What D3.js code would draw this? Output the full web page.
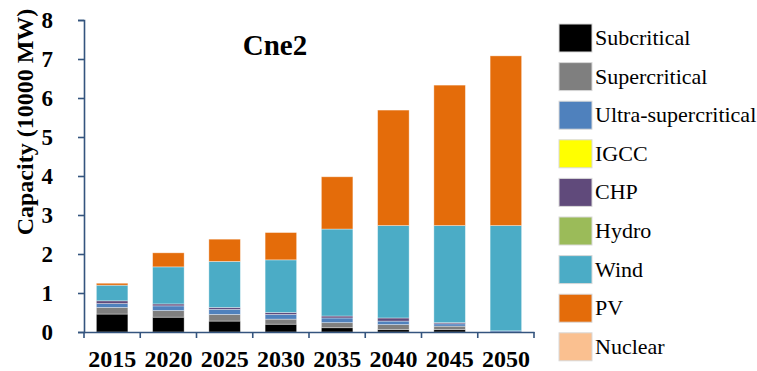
<!DOCTYPE html>
<html>
<head>
<meta charset="utf-8">
<script src="https://cdnjs.cloudflare.com/ajax/libs/d3/7.8.5/d3.min.js"></script>
<style>
  body { margin: 0; background: #fff; }
  text { font-family: "Liberation Serif", "Times New Roman", serif; }
</style>
</head>
<body>
<svg id="chart" width="757" height="371"></svg>
<script>
// categories
var years = ["2015", "2020", "2025", "2030", "2035", "2040", "2045", "2050"];

// series (10000 MW)
var subcritical   = [0.46, 0.38, 0.28, 0.20, 0.11, 0.06, 0.06, 0.00];
var supercritical = [0.17, 0.17, 0.17, 0.13, 0.13, 0.13, 0.09, 0.00];
var ultraSuper    = [0.10, 0.12, 0.13, 0.12, 0.12, 0.09, 0.06, 0.03];
var igcc          = [0, 0, 0, 0, 0, 0, 0, 0];
var chp           = [0.07, 0.05, 0.05, 0.05, 0.05, 0.08, 0.03, 0.00];
var hydro         = [0, 0, 0, 0, 0, 0, 0, 0];
var wind          = [0.40, 0.95, 1.18, 1.35, 2.23, 2.37, 2.49, 2.70];
var pv            = [0.05, 0.36, 0.57, 0.70, 1.34, 2.96, 3.60, 4.35];
var nuclear       = [0, 0, 0, 0, 0, 0, 0, 0];

var seriesNames = ["Subcritical", "Supercritical", "Ultra-supercritical", "IGCC",
                   "CHP", "Hydro", "Wind", "PV", "Nuclear"];
var seriesValues = [subcritical, supercritical, ultraSuper, igcc, chp, hydro, wind, pv, nuclear];
var colors = ["#000000", "#7f7f7f", "#4f81bd", "#ffff00", "#604a7b",
              "#9bbb59", "#4bacc6", "#e46c0a", "#fac090"];

var yTicks = [0, 1, 2, 3, 4, 5, 6, 7, 8];
var title = "Cne2";
var yTitle = "Capacity (10000 MW)";

// build rows for the stack
var rows = years.map(function (y, i) {
    var r = { year: y };
    seriesNames.forEach(function (s, j) { r[s] = seriesValues[j][i]; });
    return r;
});

var svg = d3.select("#chart");
var axisColor = "#34547e";

var x = d3.scaleBand()
    .domain(years)
    .range([84, 534])
    .paddingInner(0.44)
    .paddingOuter(0.22);

var y = d3.scaleLinear()
    .domain([0, 8])
    .range([332, 20]);

var stack = d3.stack().keys(seriesNames);
var layers = stack(rows);

// bars
svg.append("g").attr("class", "bars")
    .selectAll("g")
    .data(layers)
    .enter()
    .append("g")
        .attr("fill", function (d, i) { return colors[i]; })
    .selectAll("rect")
    .data(function (d) { return d.filter(function (p) { return p[1] - p[0] > 0; }); })
    .enter()
    .append("rect")
        .attr("x", function (d) { return x(d.data.year); })
        .attr("width", x.bandwidth())
        .attr("y", function (d) { return y(d[1]); })
        .attr("height", function (d) { return y(d[0]) - y(d[1]); })
        .attr("stroke", "#ffffff")
        .attr("stroke-opacity", 0.45)
        .attr("stroke-width", 0.8);

// y axis
var yAxis = svg.append("g")
    .attr("transform", "translate(84,0)")
    .call(d3.axisLeft(y).tickValues(yTicks).tickSize(6).tickPadding(25).tickFormat(d3.format("d")));
yAxis.select(".domain").attr("stroke", axisColor).attr("stroke-width", 1.6);
yAxis.selectAll(".tick line").attr("stroke", axisColor).attr("stroke-width", 1.6);
yAxis.selectAll(".tick text")
    .attr("font-size", 23).attr("font-weight", "bold").attr("fill", "#000")
    .style("font-family", "'Liberation Serif', serif");

// x axis: labels under bars, ticks on category boundaries
var xAxis = svg.append("g")
    .attr("transform", "translate(0,332)")
    .call(d3.axisBottom(x).tickSize(0).tickPadding(18).tickSizeOuter(0));
xAxis.select(".domain").attr("stroke", axisColor).attr("stroke-width", 1.6);
xAxis.selectAll(".tick text")
    .attr("font-size", 24).attr("font-weight", "bold").attr("fill", "#000")
    .style("font-family", "'Liberation Serif', serif");

var bounds = d3.range(years.length + 1).map(function (i) { return x.range()[0] + i * x.step(); });
xAxis.selectAll(".bound")
    .data(bounds)
    .enter()
    .append("line")
        .attr("class", "bound")
        .attr("x1", function (d) { return d; })
        .attr("x2", function (d) { return d; })
        .attr("y1", 0)
        .attr("y2", 6)
        .attr("stroke", axisColor)
        .attr("stroke-width", 1.6);

// titles
svg.append("text")
    .attr("x", 275)
    .attr("y", 55)
    .attr("text-anchor", "middle")
    .attr("font-size", 29)
    .attr("font-weight", "bold")
    .text(title);

svg.append("text")
    .attr("transform", "translate(33,122) rotate(-90)")
    .attr("text-anchor", "middle")
    .attr("font-size", 24)
    .attr("font-weight", "bold")
    .text(yTitle);

// legend
var legend = svg.append("g").attr("class", "legend")
    .selectAll("g")
    .data(seriesNames)
    .enter()
    .append("g")
        .attr("transform", function (d, i) { return "translate(559," + (38 + i * 38.6) + ")"; });

legend.append("rect")
    .attr("x", 0)
    .attr("y", -14)
    .attr("width", 33)
    .attr("height", 28)
    .attr("fill", function (d, i) { return colors[i]; })
    .attr("stroke", "#d9d9d9")
    .attr("stroke-width", 1);

legend.append("text")
    .attr("x", 36)
    .attr("y", 7)
    .attr("font-size", 22)
    .attr("fill", "#000")
    .text(function (d) { return d; });
</script>
</body>
</html>
